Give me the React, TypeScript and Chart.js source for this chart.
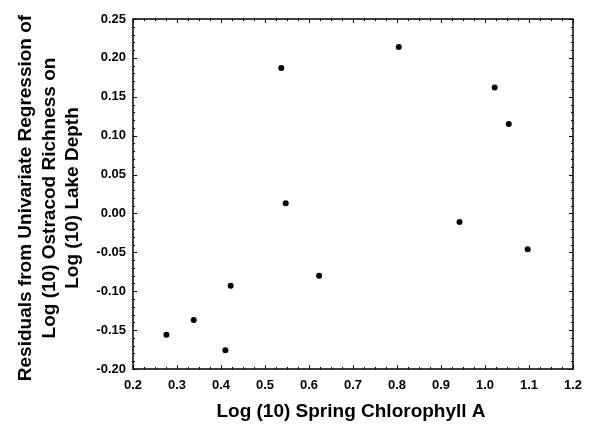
import React, { useEffect, useRef } from "react";
import { Chart, registerables } from "chart.js";

Chart.register(...registerables);

const chlorophyllX: number[] = [0.276, 0.338, 0.410, 0.422, 0.537, 0.547, 0.623, 0.804, 0.942, 1.022, 1.054, 1.097];
const residualY: number[] = [-0.156, -0.137, -0.176, -0.093, 0.187, 0.013, -0.080, 0.214, -0.011, 0.162, 0.115, -0.046];

const xTitle = "Log (10) Spring Chlorophyll A";
const yTitleLines: string[] = [
  "Residuals from Univariate Regression of",
  "Log (10) Ostracod Richness on",
  "Log (10) Lake Depth",
];

const FONT = '"Liberation Sans", Arial, Helvetica, sans-serif';

const framePlugin = {
  id: "frameTicks",
  afterDraw(chart: any) {
    const { ctx, chartArea } = chart;
    const { left, right, top, bottom } = chartArea;
    const xs = chart.scales.x;
    const ys = chart.scales.y;
    ctx.save();
    ctx.strokeStyle = "#000";
    ctx.lineWidth = 1;
    const major = 4;
    const minor = 2;
    // x ticks (top and bottom), minor 4 subdivisions
    const xt = xs.ticks.map((t: any) => t.value);
    for (let i = 0; i < xt.length; i++) {
      const px = Math.round(xs.getPixelForValue(xt[i])) + 0.5;
      ctx.beginPath();
      ctx.moveTo(px, bottom); ctx.lineTo(px, bottom - major);
      ctx.moveTo(px, top); ctx.lineTo(px, top + major);
      ctx.stroke();
      if (i < xt.length - 1) {
        for (let k = 1; k < 4; k++) {
          const v = xt[i] + ((xt[i + 1] - xt[i]) * k) / 4;
          const p = Math.round(xs.getPixelForValue(v)) + 0.5;
          ctx.beginPath();
          ctx.moveTo(p, bottom); ctx.lineTo(p, bottom - minor);
          ctx.moveTo(p, top); ctx.lineTo(p, top + minor);
          ctx.stroke();
        }
      }
    }
    const yt = ys.ticks.map((t: any) => t.value);
    for (let i = 0; i < yt.length; i++) {
      const py = Math.round(ys.getPixelForValue(yt[i])) + 0.5;
      ctx.beginPath();
      ctx.moveTo(left, py); ctx.lineTo(left + major, py);
      ctx.moveTo(right, py); ctx.lineTo(right - major, py);
      ctx.stroke();
      if (i < yt.length - 1) {
        for (let k = 1; k < 5; k++) {
          const v = yt[i] + ((yt[i + 1] - yt[i]) * k) / 5;
          const p = Math.round(ys.getPixelForValue(v)) + 0.5;
          ctx.beginPath();
          ctx.moveTo(left, p); ctx.lineTo(left + minor, p);
          ctx.moveTo(right, p); ctx.lineTo(right - minor, p);
          ctx.stroke();
        }
      }
    }
    ctx.lineWidth = 1.5;
    ctx.strokeRect(left, top, right - left, bottom - top);

    // titles
    ctx.fillStyle = "#000";
    ctx.font = `bold 19px ${FONT}`;
    ctx.textAlign = "center";
    ctx.textBaseline = "alphabetic";
    ctx.fillText(xTitle, (left + right) / 2 - 2, 417);

    const baselines = [31, 54.5, 78];
    yTitleLines.forEach((line, i) => {
      ctx.save();
      ctx.translate(baselines[i], 198);
      ctx.rotate(-Math.PI / 2);
      ctx.fillText(line, 0, 0);
      ctx.restore();
    });
    ctx.restore();
  },
};

export default function App() {
  const ref = useRef<HTMLCanvasElement | null>(null);
  useEffect(() => {
    if (!ref.current) return;
    const data = chlorophyllX.map((x, i) => ({ x, y: residualY[i] }));
    const chart = new Chart(ref.current, {
      type: "scatter",
      data: {
        datasets: [
          {
            data,
            backgroundColor: "#000",
            borderColor: "#000",
            pointRadius: 3,
            pointBorderWidth: 0,
          },
        ],
      },
      options: {
        animation: false,
        responsive: true,
        maintainAspectRatio: false,
        layout: { padding: { top: 19, right: 21, left: 0, bottom: 0 } },
        plugins: { legend: { display: false }, tooltip: { enabled: false } },
        scales: {
          x: {
            type: "linear",
            min: 0.2,
            max: 1.2,
            grid: { display: false, drawTicks: false },
            border: { display: false },
            ticks: {
              stepSize: 0.1,
              padding: 9,
              color: "#000",
              maxRotation: 0,
              font: { family: FONT, size: 13, weight: "bold" },
              callback: (v: any) => Number(v).toFixed(1),
            },
            afterFit: (s: any) => { s.height = 55; },
          },
          y: {
            type: "linear",
            min: -0.2,
            max: 0.25,
            grid: { display: false, drawTicks: false },
            border: { display: false },
            ticks: {
              stepSize: 0.05,
              padding: 7,
              color: "#000",
              font: { family: FONT, size: 13, weight: "bold" },
              callback: (v: any) => Number(v).toFixed(2),
            },
            afterFit: (s: any) => { s.width = 133; },
          },
        },
      },
      plugins: [framePlugin],
    });
    return () => chart.destroy();
  }, []);
  return (
    <div style={{ position: "absolute", left: 0, top: 0, width: 594, height: 424, background: "#fff" }}>
      <canvas ref={ref} />
    </div>
  );
}
